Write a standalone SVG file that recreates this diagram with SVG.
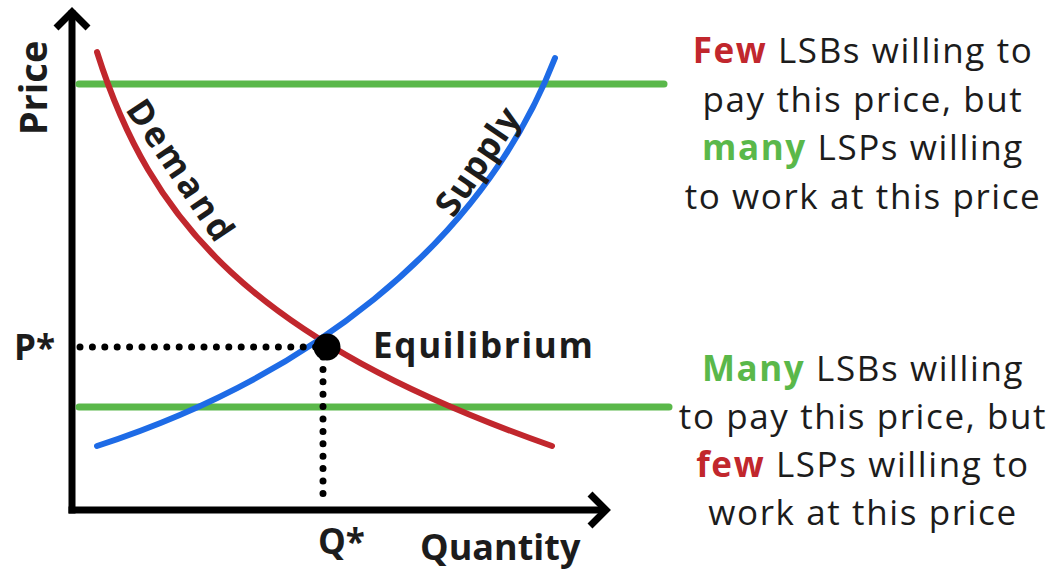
<svg xmlns="http://www.w3.org/2000/svg" width="1053" height="569" viewBox="0 0 1053 569">
<style>
.ax{stroke:#000;stroke-width:7;fill:none;stroke-linecap:square}
.ah{stroke:#000;stroke-width:7;fill:none;stroke-linejoin:miter}
.grn{stroke:#5ab84a;stroke-width:7;stroke-linecap:round;fill:none}
.crv{stroke-width:6;fill:none;stroke-linecap:round}
.dot{stroke:#000;stroke-width:7;stroke-linecap:round;stroke-dasharray:0 12.4;fill:none}
.lb{font-family:"Open Sans","Liberation Sans",sans-serif;font-weight:700;fill:#1c1c1c}
.rt{font-family:"Open Sans","Liberation Sans",sans-serif;font-size:35px;fill:#1c1c1c;text-anchor:middle;letter-spacing:1.6px}
.red{fill:#c1272d;font-weight:700}
.gr{fill:#5ab84a;font-weight:700}
</style>
<g id="axes">
<line class="ax" x1="72" y1="14" x2="72" y2="510"/>
<line class="ax" x1="72" y1="510" x2="602" y2="510"/>
<polyline class="ah" points="56,28 72,12 88,28"/>
<polyline class="ah" points="590,494 606,510 590,526"/>
</g>
<g id="price-lines">
<line class="grn" x1="79" y1="84" x2="664" y2="84"/>
<line class="grn" x1="79" y1="407" x2="669" y2="407"/>
</g>
<g id="demand">
<path class="crv" stroke="#c1272d" d="M97,52 C150,220 250,340 552,446"/>
<text class="lb" font-size="35" text-anchor="middle" transform="translate(171,178) rotate(56)" letter-spacing="3">Demand</text>
</g>
<g id="supply">
<path class="crv" stroke="#1e6be6" d="M97,446 C300,380 480,250 555,58"/>
<text class="lb" font-size="35" text-anchor="middle" transform="translate(488,168) rotate(-56)" letter-spacing="1">Supply</text>
</g>
<g id="guides">
<line class="dot" x1="80" y1="347" x2="316" y2="347"/>
<line class="dot" x1="323" y1="357" x2="323" y2="505"/>
</g>
<g id="equilibrium">
<circle cx="327" cy="347" r="13.5" fill="#000"/>
<text class="lb" font-size="35" x="373" y="358" letter-spacing="1.7">Equilibrium</text>
</g>
<g id="axis-labels">
<text class="lb" font-size="38" text-anchor="middle" transform="translate(47,88) rotate(-90)">Price</text>
<text class="lb" font-size="35" x="14" y="360" font-weight="600">P*</text>
<text class="lb" font-size="35" x="318" y="554" font-weight="600">Q*</text>
<text class="lb" font-size="36" x="420" y="560">Quantity</text>
</g>
<g id="note-high">
<text class="rt" x="863" y="63"><tspan class="red">Few</tspan> LSBs willing to</text>
<text class="rt" x="863" y="112">pay this price, but</text>
<text class="rt" x="863" y="160"><tspan class="gr">many</tspan> LSPs willing</text>
<text class="rt" x="863" y="209">to work at this price</text>
</g>
<g id="note-low">
<text class="rt" x="863" y="381"><tspan class="gr">Many</tspan> LSBs willing</text>
<text class="rt" x="863" y="429">to pay this price, but</text>
<text class="rt" x="863" y="477"><tspan class="red">few</tspan> LSPs willing to</text>
<text class="rt" x="863" y="525">work at this price</text>
</g>
</svg>
